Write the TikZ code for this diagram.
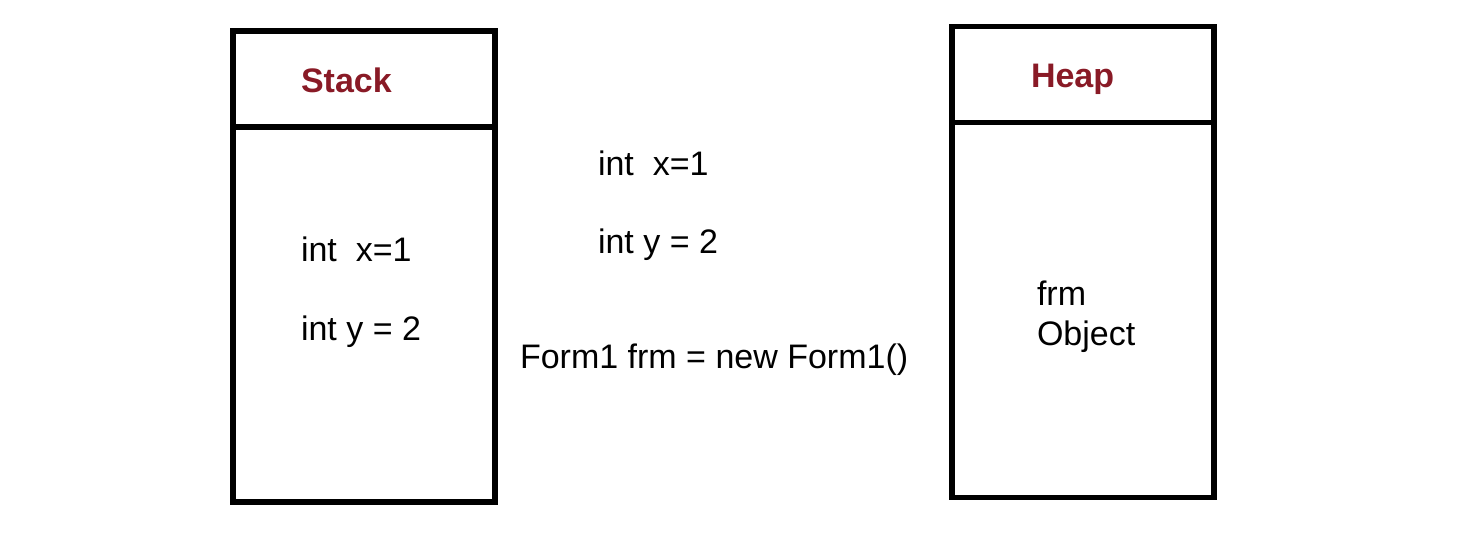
\documentclass[tikz,border=0pt]{standalone}
\usepackage{fontspec}
\setmainfont{Liberation Sans}
\usetikzlibrary{positioning}

\definecolor{titlered}{RGB}{137,26,38}

\begin{document}
\begin{tikzpicture}[
    x=0.5pt,
    y=-0.5pt,
    node distance=0pt,
    every node/.style={
        inner sep=0pt,
        outer sep=0pt,
        font=\fontsize{17}{20}\selectfont
    },
    memhead/.style={
        draw,
        line width=2.8pt,
        minimum width=131pt,
        minimum height=48pt
    },
    membody/.style={
        draw,
        line width=2.8pt,
        minimum width=131pt,
        minimum height=187.5pt
    },
    memtitle/.style={
        anchor=base west,
        text=titlered,
        font=\fontsize{17}{20}\selectfont\bfseries
    },
    code/.style={anchor=base west}
]

\useasboundingbox (0,0) rectangle (1480,538);

% stack
\node[memhead] (stackhead) at (364,79) {};
\node[membody, below=of stackhead] (stackbody) {};
\node[memtitle] (stacktitle) at (301,92) {Stack};
\node[code] (stackx) at (301,261) {int\ \ x=1};
\node[code] (stacky) at (301,340) {int y = 2};

% source lines
\node[code] (srcx) at (598,175) {int\ \ x=1};
\node[code] (srcy) at (598,253) {int y = 2};
\node[code] (srcform) at (520,368) {Form1 frm = new Form1()};

% heap
\node[memhead] (heaphead) at (1083,74.5) {};
\node[membody, below=of heaphead] (heapbody) {};
\node[memtitle] (heaptitle) at (1031,87) {Heap};
\node[code, align=left] (heapobj) at (1037,345) {frm\\Object};

\end{tikzpicture}
\end{document}
